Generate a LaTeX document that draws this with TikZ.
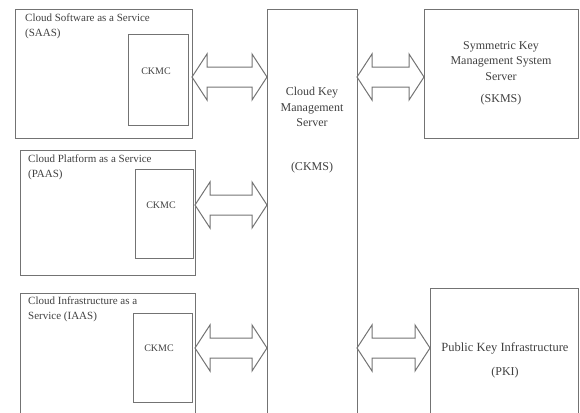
\documentclass[tikz,border=0pt]{standalone}
\usepackage{fontspec}
\setmainfont{Liberation Serif}
\usetikzlibrary{calc}

\tikzset{
  box/.style={draw=black!55, line width=1pt, anchor=north west, inner sep=0pt, outer sep=0pt},
  txt/.style={text=black!75, font=\fontsize{12}{15.5}\selectfont, inner sep=0pt, align=center},
  lbl/.style={txt, font=\fontsize{11}{15}\selectfont, anchor=north west, align=left},
  client/.style={txt, font=\fontsize{10}{12}\selectfont},
  twoway/.style={draw=black!55, line width=1pt, line join=miter},
}

% double-headed block arrow, y taken from the first point
\newcommand{\fatarrow}[2]{%
  \draw[twoway] let \p1=(#1), \p2=(#2) in
    (\x1,\y1) -- (\x1+15pt,\y1+23pt) -- (\x1+15pt,\y1+10pt)
    -- (\x2-15pt,\y1+10pt) -- (\x2-15pt,\y1+23pt) -- (\x2,\y1)
    -- (\x2-15pt,\y1-23pt) -- (\x2-15pt,\y1-10pt)
    -- (\x1+15pt,\y1-10pt) -- (\x1+15pt,\y1-23pt) -- cycle;}

\begin{document}
\begin{tikzpicture}[x=1pt, y=-1pt]
    \useasboundingbox (0,0) rectangle (580,412);
    \clip (0,0) rectangle (580,412);

    % service boxes
    \node[box, minimum width=177pt, minimum height=128pt] at (15,10) (saas) {};
    \node[box, minimum width=175pt, minimum height=125pt] at (20,150) (paas) {};
    \node[box, minimum width=175pt, minimum height=130pt] at (20,293) (iaas) {};
    \node[lbl] at ([xshift=10pt,yshift=-4pt]saas.north west) (saastxt) {Cloud Software as a Service\\(SAAS)};
    \node[lbl] at ([xshift=8pt,yshift=-5pt]paas.north west) (paastxt) {Cloud Platform as a Service\\(PAAS)};
    \node[lbl] at ([xshift=8pt,yshift=-4pt]iaas.north west) (iaastxt) {Cloud Infrastructure as a\\Service (IAAS)};

    % clients
    \node[box, minimum width=60pt, minimum height=90pt] at (128,35) (ckmc1) {};
    \node[box, minimum width=58pt, minimum height=89pt] at (135,169) (ckmc2) {};
    \node[box, minimum width=59pt, minimum height=89pt] at (133,313) (ckmc3) {};
    \node[client] at (156,71) (k1) {CKMC};
    \node[client] at (161,205) (k2) {CKMC};
    \node[client] at (159,348) (k3) {CKMC};

    % servers
    \node[box, minimum width=90pt, minimum height=420pt] at (267,10) (ckms) {};
    \node[box, minimum width=154pt, minimum height=128pt] at (424,10) (skms) {};
    \node[box, minimum width=148pt, minimum height=140pt] at (430,288) (pki) {};
    \node[txt] at (312,107) (ckmstxt) {Cloud Key\\Management\\Server};
    \node[txt] at (312,168) (ckmsabbr) {(CKMS)};
    \node[txt] at (501,61) (skmstxt) {Symmetric Key\\Management System\\Server};
    \node[txt] at (501,100) (skmsabbr) {(SKMS)};
    \node[txt, font=\fontsize{12.5}{15}\selectfont] at (505,348) (pkitxt) {Public Key Infrastructure};
    \node[txt] at (505,373) (pkiabbr) {(PKI)};

    % arrows
    \fatarrow{$(saas.east)+(0,3)$}{ckms.west}
    \fatarrow{paas.east |- k2}{ckms.west}
    \fatarrow{iaas.east |- k3}{ckms.west}
    \fatarrow{$(ckms.east |- skms.west)+(0,3)$}{skms.west}
    \fatarrow{ckms.east |- pkitxt}{pki.west}
\end{tikzpicture}
\end{document}
